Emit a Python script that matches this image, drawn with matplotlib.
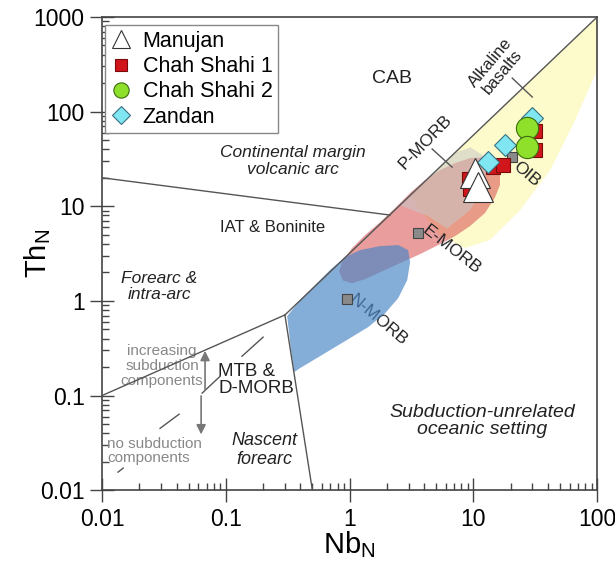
import matplotlib
matplotlib.use("Agg")
import matplotlib.pyplot as plt
from matplotlib.lines import Line2D
from matplotlib.patches import Polygon

plt.rcParams['font.family'] = ['Liberation Sans', 'DejaVu Sans']
plt.rcParams['mathtext.fontset'] = 'custom'
plt.rcParams['mathtext.rm'] = 'Liberation Sans'
plt.rcParams['mathtext.it'] = 'Liberation Sans:italic'

# ---------------- data ----------------
manujan_nb = [10.3, 10.9]
manujan_th = [22.2, 16.1]

chah1_nb = [9.3, 9.4, 14.5, 17.5, 31.5, 31.5]
chah1_th = [19.5, 15.3, 26.0, 27.5, 62.0, 39.3]

chah2_nb = [27.2, 27.2]
chah2_th = [67.0, 42.3]

zandan_nb = [13.2, 18.1, 29.9]
zandan_th = [29.3, 44.4, 85.5]

ref_names = ['E-MORB', 'N-MORB', 'OIB']
ref_nb = [3.58, 0.95, 20.6]
ref_th = [5.2, 1.04, 33.0]

# field outlines (Nb_N, Th_N)
yellow_nb = [100, 3.08, 3.71, 5.38, 8.58, 13.6, 23.9, 41.7, 66.4, 100]
yellow_th = [1000, 12.9, 9.12, 4.96, 3.62, 4.39, 9.12, 24.1, 81.5, 275]

red_nb = [0.869, 1.047, 1.334, 1.763, 2.33, 3.08, 4.07, 5.38, 7.12, 9.41, 12.4,
          15.0, 16.4, 16.4, 15.0, 12.4, 9.41, 7.12, 5.38, 3.71, 2.56, 1.763,
          1.334, 1.047, 0.885, 0.822]
red_th = [2.57, 3.62, 4.96, 6.80, 9.57, 13.8, 18.9, 24.1, 28.6, 32.3, 33.1,
          29.3, 23.0, 16.8, 12.5, 8.47, 6.18, 4.84, 3.98, 3.12, 2.51, 2.01,
          1.70, 1.54, 1.64, 2.05]

gray_nb = [2.56, 7.12, 9.5, 12.5, 12.5, 9.41, 6.13, 4.3]
gray_th = [10.2, 36.8, 42.0, 33.0, 16.0, 9.12, 5.8, 7.9]

blue_nb = [0.313, 0.398, 0.526, 0.695, 0.920, 1.216, 1.763, 2.47, 2.97, 3.08,
           2.92, 2.47, 1.94, 1.41, 0.920, 0.578, 0.398, 0.357, 0.336]
blue_th = [0.690, 1.02, 1.47, 2.12, 2.90, 3.44, 3.79, 3.89, 3.44, 2.57,
           1.66, 1.07, 0.743, 0.528, 0.376, 0.261, 0.195, 0.177, 0.302]

# boundary lines
diag_nb = [100, 0.30]
diag_th = [1000, 0.71]
low_nb = [0.01, 0.30]
low_th = [0.10, 0.71]
vert_nb = [0.30, 0.50]
vert_th = [0.71, 0.01]
arc_nb = [0.01, 2.12]
arc_th = [20.0, 8.07]

tick_pmorb_nb = [4.64, 6.73]
tick_pmorb_th = [40.3, 25.9]
tick_alk_nb = [20.6, 29.9]
tick_alk_th = [226, 142.6]

trend_segments = [
    ([0.01345, 0.0148], [0.0155, 0.0171]),
    ([0.0294, 0.0419], [0.045, 0.0635]),
    ([0.0643, 0.090], [0.106, 0.160]),
    ([0.135, 0.20], [0.26, 0.414]),
]

# ---------------- figure ----------------
fig = plt.figure(figsize=(6.15, 5.66), dpi=100)
ax = fig.add_axes([0.166, 0.134, 0.805, 0.836])
ax.set_xscale('log')
ax.set_yscale('log')
ax.set_xlim(0.01, 100)
ax.set_ylim(0.01, 1000)

ax.add_patch(Polygon(list(zip(yellow_nb, yellow_th)), closed=True,
                     facecolor='#fdfbcb', edgecolor='none', zorder=1))
ax.add_patch(Polygon(list(zip(red_nb, red_th)), closed=True,
                     facecolor='#d85050', alpha=0.56, edgecolor='none', zorder=2))
ax.add_patch(Polygon(list(zip(gray_nb, gray_th)), closed=True,
                     facecolor='#c8c8c8', alpha=0.55, edgecolor='none', zorder=3))
ax.add_patch(Polygon(list(zip(blue_nb, blue_th)), closed=True,
                     facecolor='#4a86c5', alpha=0.68, edgecolor='none', zorder=4))

lc = '#555555'
for xs, ys in [(diag_nb, diag_th), (low_nb, low_th), (vert_nb, vert_th),
               (arc_nb, arc_th), (tick_pmorb_nb, tick_pmorb_th),
               (tick_alk_nb, tick_alk_th)]:
    ax.plot(xs, ys, color=lc, lw=1.0, zorder=5)
for xs, ys in trend_segments:
    ax.plot(xs, ys, color=lc, lw=1.0, zorder=5)

# arrows
ax.annotate('', xy=(0.0679, 0.317), xytext=(0.0679, 0.106),
            arrowprops=dict(arrowstyle='-|>', color='#777777', lw=1.2,
                            mutation_scale=14), zorder=5)
ax.annotate('', xy=(0.0631, 0.0363), xytext=(0.0631, 0.106),
            arrowprops=dict(arrowstyle='-|>', color='#777777', lw=1.2,
                            mutation_scale=14), zorder=5)

# reference points
ax.plot(ref_nb, ref_th, 's', ms=7, mfc='#8a8a8a', mec='#444444', mew=0.8,
        ls='none', zorder=6)

# samples
ax.plot(chah1_nb, chah1_th, 's', ms=10, mfc='#d0151b', mec='#7a0a0a', mew=0.8,
        ls='none', zorder=7)
ax.plot(zandan_nb, zandan_th, 'D', ms=11.5, mfc='#7fe6f2', mec='#3a6f80', mew=0.8,
        ls='none', zorder=8)
ax.plot(chah2_nb, chah2_th, 'o', ms=16, mfc='#8ee02a', mec='#3d6b12', mew=0.8,
        ls='none', zorder=9)
ax.plot(manujan_nb, manujan_th, '^', ms=21, mfc='white', mec='#333333', mew=0.8,
        ls='none', zorder=10)

# text labels
tc = '#222222'
ax.text(2.2, 226, 'CAB', fontsize=14, ha='center', va='center', color=tc)
ax.text(15.3, 296, 'Alkaline\nbasalts', fontsize=12, ha='center', va='center',
        rotation=50, color=tc, linespacing=1.0)
ax.text(4.07, 47.7, 'P-MORB', fontsize=12.5, ha='center', va='center',
        rotation=46, color=tc)
ax.text(26.8, 22.0, 'OIB', fontsize=12.5, ha='center', va='center',
        rotation=-40, color=tc, zorder=12)
ax.text(6.73, 3.44, 'E-MORB', fontsize=12.5, ha='center', va='center',
        rotation=-38, color=tc)
ax.text(1.70, 0.626, 'N-MORB', fontsize=12.5, ha='center', va='center',
        rotation=-40, color=tc)
ax.text(0.349, 30.1, 'Continental margin\nvolcanic arc', fontsize=12.5,
        ha='center', va='center', style='italic', color=tc, linespacing=1.1)
ax.text(0.237, 5.9, 'IAT & Boninite', fontsize=12, ha='center', va='center',
        color=tc)
ax.text(0.0289, 1.43, 'Forearc &\nintra-arc', fontsize=12.5, ha='center',
        va='center', style='italic', color=tc, linespacing=1.1)
ax.text(0.0305, 0.205, 'increasing\nsubduction\ncomponents', fontsize=11,
        ha='center', va='center', color='#888888', linespacing=1.05)
ax.text(0.011, 0.0258, 'no subduction\ncomponents', fontsize=11,
        ha='left', va='center', color='#888888', linespacing=1.05)
ax.text(0.0865, 0.146, 'MTB &\nD-MORB', fontsize=13.5, ha='left', va='center',
        color=tc, linespacing=1.0)
ax.text(0.204, 0.0265, 'Nascent\nforearc', fontsize=13, ha='center',
        va='center', style='italic', color=tc, linespacing=1.1)
ax.text(11.8, 0.0536, 'Subduction-unrelated\noceanic setting', fontsize=14,
        ha='center', va='center', style='italic', color=tc, linespacing=1.05)

# axes styling
for s in ax.spines.values():
    s.set_color('#444444')
    s.set_linewidth(1.2)
ax.tick_params(which='major', direction='inout', length=17, width=1.0,
               color='#444444', labelsize=16.5, pad=4)
ax.tick_params(which='minor', direction='in', length=5, width=1.0,
               color='#444444')
ax.set_xticks([0.01, 0.1, 1, 10, 100])
ax.set_xticklabels(['0.01', '0.1', '1', '10', '100'])
ax.set_yticks([0.01, 0.1, 1, 10, 100, 1000])
ax.set_yticklabels(['0.01', '0.1', '1', '10', '100', '1000'])

ax.set_xlabel(r'Nb$_\mathrm{N}$', fontsize=21)
ax.set_ylabel(r'Th$_\mathrm{N}$', fontsize=21)
ax.xaxis.set_label_coords(0.5, -0.083)
ax.yaxis.set_label_coords(-0.1, 0.5)

handles = [
    Line2D([], [], marker='^', ls='none', ms=13, mfc='white', mec='#333333', mew=0.8),
    Line2D([], [], marker='s', ls='none', ms=9, mfc='#d0151b', mec='#7a0a0a', mew=0.8),
    Line2D([], [], marker='o', ls='none', ms=11, mfc='#8ee02a', mec='#3d6b12', mew=0.8),
    Line2D([], [], marker='D', ls='none', ms=9, mfc='#7fe6f2', mec='#3a6f80', mew=0.8),
]
leg = ax.legend(handles, ['Manujan', 'Chah Shahi 1', 'Chah Shahi 2', 'Zandan'],
                loc='upper left', bbox_to_anchor=(0.006, 0.982), borderaxespad=0,
                fontsize=15.5, frameon=True, fancybox=False, framealpha=1,
                edgecolor='#888888', handlelength=1.0, handletextpad=0.5,
                labelspacing=0.2, borderpad=0.25)
leg.get_frame().set_linewidth(1.0)
leg.set_zorder(20)

fig.savefig('out.png', dpi=100)
